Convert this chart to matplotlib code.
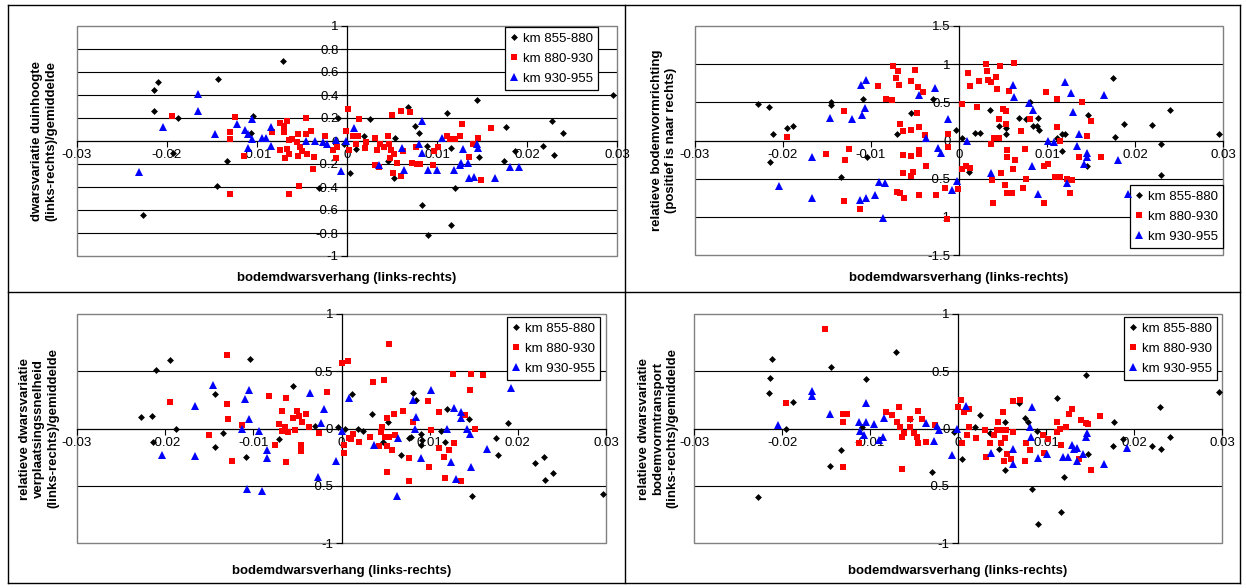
import matplotlib
matplotlib.use('Agg')
import matplotlib.pyplot as plt
from matplotlib.patches import Rectangle
from matplotlib.lines import Line2D

plt.rcParams['font.family'] = ['Liberation Sans', 'DejaVu Sans']
plt.rcParams['axes.unicode_minus'] = False

# --- data (x = bodemdwarsverhang) ---
series_labels = ['km 855-880', 'km 880-930', 'km 930-955']

duin_855 = [(-0.0071, 0.70), (-0.0210, 0.51), (-0.0214, 0.44), (-0.0215, 0.26), (-0.0188, 0.20),
            (-0.0143, 0.54), (-0.0104, 0.22), (-0.0107, 0.07), (-0.0193, -0.10), (-0.0133, -0.17),
            (-0.0144, -0.39), (-0.0227, -0.64), (-0.0031, -0.41), (-0.0010, 0.20), (-0.0003, -0.03),
            (0.0003, -0.28), (0.0068, 0.30), (0.0111, 0.24), (0.0144, 0.36), (0.0025, 0.19),
            (0.0019, 0.04), (0.0010, -0.07), (0.0053, 0.03), (0.0046, -0.17), (0.0052, -0.32),
            (0.0075, 0.13), (0.0080, 0.07), (0.0089, -0.04), (0.0116, -0.06), (0.0083, -0.56),
            (0.0090, -0.82), (0.0116, -0.73), (0.0120, -0.41), (0.0147, -0.14), (0.0177, 0.12),
            (0.0174, -0.17), (0.0187, -0.09), (0.0218, -0.04), (0.0228, 0.17), (0.0230, -0.12),
            (0.0240, 0.07), (0.0295, 0.40)]
duin_880 = [(-0.0195, 0.22), (-0.0130, 0.08), (-0.0130, 0.02), (-0.0124, 0.21), (-0.0114, -0.13),
            (-0.0130, -0.46), (-0.0083, 0.08), (-0.0075, 0.16), (-0.0070, 0.13), (-0.0067, 0.17),
            (-0.0070, 0.08), (-0.0075, -0.08), (-0.0069, -0.15), (-0.0064, -0.11), (-0.0067, -0.07),
            (-0.0065, 0.01), (-0.0061, 0.02), (-0.0056, -0.01), (-0.0054, 0.06), (-0.0046, 0.20),
            (-0.0040, 0.09), (-0.0046, 0.06), (-0.0052, -0.05), (-0.0050, -0.09), (-0.0054, -0.13),
            (-0.0045, -0.11), (-0.0037, -0.14), (-0.0038, -0.24), (-0.0064, -0.46), (-0.0053, -0.39),
            (-0.0025, 0.04), (-0.0016, -0.08), (-0.0011, -0.05), (-0.0012, -0.15), (-0.0001, 0.09),
            (0.0001, 0.28), (0.0002, -0.08), (0.0013, 0.19), (0.0007, 0.04), (0.0012, 0.04),
            (0.0010, -0.03), (0.0021, -0.01), (0.0020, -0.06), (0.0031, 0.03), (0.0033, -0.08),
            (0.0037, -0.03), (0.0041, -0.05), (0.0046, 0.04), (0.0047, -0.03), (0.0049, -0.08),
            (0.0052, -0.11), (0.0048, -0.15), (0.0055, -0.19), (0.0031, -0.21), (0.0036, -0.23),
            (0.0050, 0.23), (0.0060, 0.26), (0.0070, 0.25), (0.0062, -0.09), (0.0051, -0.28),
            (0.0060, -0.30), (0.0072, -0.19), (0.0077, -0.05), (0.0078, -0.20), (0.0081, -0.20),
            (0.0095, -0.21), (0.0097, -0.09), (0.0101, -0.05), (0.0111, 0.04), (0.0114, 0.02),
            (0.0120, 0.02), (0.0126, 0.04), (0.0128, 0.15), (0.0136, -0.14), (0.0145, 0.03),
            (0.0140, -0.03), (0.0160, 0.11), (0.0149, -0.34)]
duin_930 = [(-0.0166, 0.41), (-0.0166, 0.26), (-0.0204, 0.12), (-0.0231, -0.27), (-0.0147, 0.06),
            (-0.0122, 0.15), (-0.0113, 0.10), (-0.0110, 0.06), (-0.0106, 0.19), (-0.0106, 0.02),
            (-0.0110, -0.06), (-0.0095, 0.03), (-0.0090, 0.03), (-0.0084, 0.12), (-0.0085, -0.04),
            (-0.0046, 0.00), (-0.0036, 0.00), (-0.0027, -0.01), (-0.0022, -0.03), (-0.0012, 0.01),
            (-0.0001, 0.00), (-0.0007, -0.26), (0.0008, 0.11), (0.0036, -0.21), (0.0061, -0.06),
            (0.0063, -0.25), (0.0080, -0.03), (0.0083, 0.17), (0.0083, -0.10), (0.0090, -0.25),
            (0.0100, -0.25), (0.0106, 0.03), (0.0119, -0.25), (0.0125, -0.21), (0.0127, -0.19),
            (0.0129, -0.07), (0.0134, -0.19), (0.0135, -0.32), (0.0141, -0.31), (0.0144, -0.03),
            (0.0146, -0.06), (0.0164, -0.32), (0.0181, -0.23), (0.0191, -0.23)]

richting_855 = [(-0.0228, 0.48), (-0.0216, 0.44), (-0.0211, 0.08), (-0.0195, 0.17), (-0.0189, 0.19),
                (-0.0145, 0.50), (-0.0145, 0.46), (-0.0109, 0.54), (-0.0215, -0.28), (-0.0105, -0.21),
                (-0.0134, -0.48), (-0.0055, 0.36), (-0.0070, 0.09), (-0.0030, 0.54), (-0.0003, 0.14),
                (0.0003, 0.03), (0.0011, -0.41), (0.0018, 0.10), (0.0024, 0.10), (0.0035, 0.40),
                (0.0046, 0.19), (0.0053, 0.16), (0.0053, 0.08), (0.0068, 0.29), (0.0076, 0.28),
                (0.0081, 0.51), (0.0084, 0.19), (0.0090, 0.30), (0.0089, 0.19), (0.0091, 0.14),
                (0.0111, 0.03), (0.0117, 0.08), (0.0121, 0.09), (0.0117, -0.14), (0.0147, 0.34),
                (0.0145, -0.33), (0.0175, 0.82), (0.0177, 0.05), (0.0188, 0.22), (0.0219, 0.20),
                (0.0230, -0.05), (0.0229, -0.45), (0.0240, 0.40), (0.0296, 0.09)]
richting_880 = [(-0.0195, 0.04), (-0.0131, 0.38), (-0.0151, -0.18), (-0.0125, -0.11), (-0.0129, -0.25),
                (-0.0131, -0.79), (-0.0113, -0.90), (-0.0092, 0.72), (-0.0075, 0.98), (-0.0069, 0.91),
                (-0.0072, 0.82), (-0.0068, 0.73), (-0.0083, 0.55), (-0.0076, 0.53), (-0.0050, 0.93),
                (-0.0054, 0.78), (-0.0047, 0.70), (-0.0041, 0.64), (-0.0048, 0.36), (-0.0067, 0.21),
                (-0.0064, 0.13), (-0.0055, 0.14), (-0.0046, 0.18), (-0.0039, 0.07), (-0.0012, 0.08),
                (-0.0064, -0.19), (-0.0054, -0.20), (-0.0046, -0.13), (-0.0046, -0.18), (-0.0012, -0.08),
                (-0.0037, -0.34), (-0.0064, -0.42), (-0.0052, -0.41), (-0.0055, -0.47), (-0.0070, -0.67),
                (-0.0067, -0.69), (-0.0062, -0.75), (-0.0046, -0.72), (-0.0026, -0.72), (-0.0016, -0.62),
                (-0.0014, -1.03), (-0.0001, -0.63), (0.0003, 0.48), (0.0003, -0.37), (0.0008, -0.34),
                (0.0010, 0.88), (0.0012, 0.72), (0.0031, 1.00), (0.0032, 0.91), (0.0033, 0.79),
                (0.0036, 0.76), (0.0042, 0.83), (0.0047, 0.97), (0.0062, 1.02), (0.0023, 0.78),
                (0.0043, 0.68), (0.0057, 0.65), (0.0020, 0.44), (0.0050, 0.41), (0.0053, 0.39),
                (0.0046, 0.28), (0.0081, 0.28), (0.0053, 0.21), (0.0070, 0.13), (0.0040, 0.03),
                (0.0046, 0.03), (0.0036, -0.04), (0.0075, -0.11), (0.0054, -0.13), (0.0054, -0.22),
                (0.0064, -0.25), (0.0061, -0.37), (0.0048, -0.43), (0.0038, -0.52), (0.0052, -0.58),
                (0.0076, -0.50), (0.0073, -0.62), (0.0055, -0.69), (0.0060, -0.69), (0.0039, -0.82),
                (0.0097, -0.82), (0.0013, -0.36), (0.0099, 0.63), (0.0111, 0.54), (0.0111, 0.18),
                (0.0115, 0.00), (0.0097, -0.33), (0.0101, -0.31), (0.0109, -0.48), (0.0115, -0.48),
                (0.0123, -0.51), (0.0128, -0.52), (0.0126, -0.69), (0.0140, 0.50), (0.0150, 0.26),
                (0.0146, 0.06), (0.0136, -0.21), (0.0161, -0.22)]
richting_930 = [(-0.0111, 0.73), (-0.0106, 0.79), (-0.0107, 0.43), (-0.0110, 0.34), (-0.0147, 0.29),
                (-0.0122, 0.28), (-0.0167, -0.22), (-0.0205, -0.59), (-0.0167, -0.75), (-0.0113, -0.78),
                (-0.0106, -0.75), (-0.0095, -0.72), (-0.0091, -0.55), (-0.0084, -0.56), (-0.0086, -1.01),
                (-0.0045, 0.59), (-0.0027, 0.69), (-0.0037, 0.03), (-0.0024, -0.10), (-0.0021, -0.17),
                (-0.0013, 0.28), (-0.0002, -0.53), (-0.0008, -0.65), (0.0009, 0.00), (0.0061, 0.73),
                (0.0063, 0.57), (0.0080, 0.49), (0.0084, 0.40), (0.0083, -0.34), (0.0036, -0.42),
                (0.0090, -0.70), (0.0101, 0.00), (0.0108, -0.02), (0.0120, 0.76), (0.0127, 0.62),
                (0.0130, 0.37), (0.0136, 0.08), (0.0134, -0.07), (0.0145, -0.16), (0.0145, -0.21),
                (0.0142, -0.31), (0.0123, -0.56), (0.0165, 0.59), (0.0181, -0.26), (0.0192, -0.70)]

snelheid_855 = [(-0.0210, 0.51), (-0.0194, 0.60), (-0.0104, 0.61), (-0.0227, 0.10), (-0.0215, 0.11),
                (-0.0188, 0.00), (-0.0214, -0.12), (-0.0144, 0.30), (-0.0144, -0.16), (-0.0134, -0.04),
                (-0.0108, -0.25), (-0.0071, -0.09), (-0.0055, 0.37), (-0.0030, 0.02), (-0.0004, 0.01),
                (0.0004, 0.00), (0.0012, 0.30), (0.0019, 0.00), (0.0024, -0.02), (0.0035, 0.13),
                (0.0053, 0.06), (0.0047, -0.12), (0.0068, -0.23), (0.0077, -0.08), (0.0079, -0.07),
                (0.0081, 0.31), (0.0085, 0.25), (0.0090, -0.05), (0.0091, -0.10), (0.0090, -0.14),
                (0.0113, -0.02), (0.0117, -0.12), (0.0120, 0.17), (0.0145, 0.08), (0.0148, -0.59),
                (0.0175, -0.08), (0.0177, -0.23), (0.0189, 0.05), (0.0219, -0.30), (0.0230, -0.25),
                (0.0231, -0.45), (0.0240, -0.39), (0.0297, -0.57)]
snelheid_880 = [(-0.0130, 0.64), (-0.0195, 0.23), (-0.0130, 0.21), (-0.0129, 0.08), (-0.0150, -0.06),
                (-0.0124, -0.28), (-0.0113, 0.03), (-0.0082, 0.28), (-0.0063, 0.27), (-0.0068, 0.15),
                (-0.0075, -0.14), (-0.0071, 0.04), (-0.0068, -0.02), (-0.0064, 0.01), (-0.0061, -0.03),
                (-0.0053, -0.01), (-0.0055, 0.09), (-0.0050, 0.15), (-0.0048, 0.11), (-0.0045, 0.06),
                (-0.0040, 0.13), (-0.0037, 0.01), (-0.0046, -0.14), (-0.0046, -0.20), (-0.0063, -0.29),
                (-0.0025, -0.04), (-0.0016, 0.32), (0.0000, 0.57), (0.0007, 0.59), (0.0003, -0.14),
                (0.0003, -0.21), (0.0009, -0.08), (0.0054, 0.74), (0.0036, 0.41), (0.0048, 0.42),
                (0.0013, -0.05), (0.0011, -0.09), (0.0020, -0.12), (0.0032, -0.07), (0.0043, -0.15),
                (0.0046, 0.01), (0.0045, -0.03), (0.0049, -0.07), (0.0054, -0.07), (0.0052, -0.15),
                (0.0057, -0.19), (0.0052, 0.09), (0.0060, 0.13), (0.0070, 0.15), (0.0061, -0.06),
                (0.0081, 0.06), (0.0052, -0.38), (0.0076, -0.26), (0.0076, -0.46), (0.0098, 0.24),
                (0.0101, -0.01), (0.0099, -0.34), (0.0111, 0.14), (0.0111, -0.17), (0.0116, -0.25),
                (0.0122, -0.19), (0.0128, -0.13), (0.0117, -0.43), (0.0126, 0.48), (0.0147, 0.48),
                (0.0161, 0.47), (0.0146, 0.34), (0.0140, 0.12), (0.0151, 0.00), (0.0136, -0.46)]
snelheid_930 = [(-0.0146, 0.38), (-0.0166, 0.20), (-0.0204, -0.23), (-0.0166, -0.24), (-0.0110, 0.26),
                (-0.0105, 0.34), (-0.0105, 0.08), (-0.0113, 0.00), (-0.0094, -0.02), (-0.0085, -0.19),
                (-0.0084, -0.26), (-0.0107, -0.53), (-0.0090, -0.55), (-0.0036, 0.31), (-0.0020, 0.17),
                (-0.0023, 0.05), (0.0000, -0.02), (-0.0006, -0.28), (-0.0027, -0.42), (0.0009, 0.27),
                (0.0037, -0.14), (0.0064, -0.08), (0.0063, -0.59), (0.0081, 0.25), (0.0085, 0.10),
                (0.0083, 0.00), (0.0090, -0.26), (0.0101, 0.34), (0.0120, 0.00), (0.0124, -0.29),
                (0.0128, 0.18), (0.0136, 0.14), (0.0135, 0.09), (0.0142, 0.00), (0.0146, -0.05),
                (0.0130, -0.44), (0.0147, -0.34), (0.0165, -0.18), (0.0192, 0.35)]

transport_855 = [(-0.0211, 0.61), (-0.0214, 0.44), (-0.0215, 0.31), (-0.0188, 0.23), (-0.0195, 0.00),
                 (-0.0227, -0.60), (-0.0144, 0.54), (-0.0133, -0.19), (-0.0145, -0.33), (-0.0104, 0.43),
                 (-0.0109, 0.01), (-0.0070, 0.67), (-0.0054, 0.08), (-0.0030, -0.38), (-0.0004, -0.03),
                 (0.0004, -0.27), (0.0069, 0.22), (0.0025, 0.12), (0.0019, 0.01), (0.0036, -0.04),
                 (0.0053, 0.06), (0.0047, -0.18), (0.0053, -0.36), (0.0076, 0.09), (0.0079, 0.06),
                 (0.0090, -0.02), (0.0084, -0.53), (0.0091, -0.83), (0.0113, 0.27), (0.0117, -0.73),
                 (0.0121, -0.42), (0.0146, 0.47), (0.0148, -0.22), (0.0176, -0.15), (0.0177, 0.06),
                 (0.0188, -0.09), (0.0220, -0.15), (0.0230, 0.19), (0.0231, -0.18), (0.0241, -0.07),
                 (0.0297, 0.32)]
transport_880 = [(-0.0151, 0.87), (-0.0195, 0.22), (-0.0131, 0.13), (-0.0126, 0.13), (-0.0131, 0.06),
                 (-0.0113, -0.13), (-0.0131, -0.34), (-0.0082, 0.14), (-0.0075, 0.12), (-0.0067, 0.19),
                 (-0.0069, 0.06), (-0.0066, 0.01), (-0.0055, 0.01), (-0.0054, 0.08), (-0.0045, 0.15),
                 (-0.0041, 0.08), (-0.0061, -0.04), (-0.0064, -0.07), (-0.0050, -0.04), (-0.0047, -0.07),
                 (-0.0046, -0.13), (-0.0036, -0.12), (-0.0026, 0.03), (-0.0064, -0.35), (0.0000, 0.19),
                 (0.0003, 0.25), (0.0007, 0.14), (0.0010, -0.06), (0.0004, -0.13), (0.0013, 0.01),
                 (0.0013, 0.17), (0.0021, -0.08), (0.0031, -0.01), (0.0032, -0.25), (0.0036, -0.13),
                 (0.0041, -0.06), (0.0044, -0.01), (0.0046, 0.06), (0.0051, 0.14), (0.0050, -0.01),
                 (0.0053, -0.08), (0.0049, -0.13), (0.0055, -0.01), (0.0056, -0.22), (0.0052, -0.28),
                 (0.0060, -0.27), (0.0063, -0.03), (0.0062, 0.24), (0.0070, 0.25), (0.0077, -0.13),
                 (0.0082, -0.19), (0.0076, -0.28), (0.0097, -0.06), (0.0102, -0.09), (0.0098, -0.21),
                 (0.0112, 0.06), (0.0113, -0.03), (0.0117, -0.14), (0.0116, 0.00), (0.0123, 0.01),
                 (0.0126, 0.13), (0.0129, 0.17), (0.0140, 0.07), (0.0146, 0.05), (0.0148, 0.04),
                 (0.0137, -0.27), (0.0151, -0.36), (0.0161, 0.11)]
transport_930 = [(-0.0166, 0.33), (-0.0166, 0.28), (-0.0205, 0.03), (-0.0146, 0.13), (-0.0105, 0.22),
                 (-0.0112, 0.06), (-0.0105, 0.06), (-0.0111, -0.02), (-0.0107, -0.06), (-0.0095, 0.04),
                 (-0.0084, 0.09), (-0.0085, -0.07), (-0.0090, -0.10), (-0.0036, 0.05), (-0.0027, -0.11),
                 (-0.0024, 0.02), (-0.0022, -0.01), (-0.0001, 0.00), (-0.0007, -0.23), (0.0009, 0.20),
                 (0.0037, -0.21), (0.0062, -0.18), (0.0063, -0.31), (0.0082, 0.01), (0.0083, -0.07),
                 (0.0084, 0.19), (0.0091, -0.26), (0.0101, -0.22), (0.0119, -0.25), (0.0125, -0.25),
                 (0.0130, -0.14), (0.0132, -0.18), (0.0135, -0.17), (0.0135, -0.28), (0.0142, -0.22),
                 (0.0146, -0.07), (0.0147, -0.04), (0.0166, -0.31), (0.0192, -0.17)]

x_ticks = [-0.03, -0.02, -0.01, 0, 0.01, 0.02, 0.03]
xlabel = 'bodemdwarsverhang (links-rechts)'

W, H = 1246, 588
fig = plt.figure(figsize=(W / 100, H / 100), dpi=100)


def fx(x):
    return x / W


def fy(y):
    return 1 - y / H


markers = [dict(marker='D', color='black', ms=3.5),
           dict(marker='s', color='red', ms=4.6),
           dict(marker='^', color='blue', ms=5.3)]

# (series, plot box px, ylim, yticks, ylabel, ylabel x, legend right/top px, xlabel y)
panels = [
    ([duin_855, duin_880, duin_930], (77, 26, 617, 256), 1.0,
     [-1, -0.8, -0.6, -0.4, -0.2, 0, 0.2, 0.4, 0.6, 0.8, 1],
     'dwarsvariatie duinhoogte\n(links-rechts)/gemiddelde', 44, (598, 27), 278),
    ([richting_855, richting_880, richting_930], (695, 26, 1223, 255), 1.5,
     [-1.5, -1, -0.5, 0, 0.5, 1, 1.5],
     'relatieve bodemvormrichting\n(positief is naar rechts)', 664, (1223, 185), 278),
    ([snelheid_855, snelheid_880, snelheid_930], (77, 314, 606, 543), 1.0,
     [-1, -0.5, 0, 0.5, 1],
     'relatieve dwarsvariatie\nverplaatsingssnelheid\n(links-rechts)/gemiddelde', 39, (600, 317), 571),
    ([transport_855, transport_880, transport_930], (694, 314, 1222, 543), 1.0,
     [-1, -0.5, 0, 0.5, 1],
     'relatieve dwarsvariatie\nbodemvormtransport\n(links-rechts)/gemiddelde', 658, (1217, 317), 571),
]

for series, (x0, y0, x1, y1), ymax, yticks, ylabel, ylx, (lgx, lgy), xly in panels:
    ax = fig.add_axes([fx(x0), fy(y1), (x1 - x0) / W, (y1 - y0) / H])
    ax.set_xlim(-0.03, 0.03)
    ax.set_ylim(-ymax, ymax)
    for s, (pts, st) in enumerate(zip(series, markers)):
        xs, ys = zip(*pts)
        ax.plot(xs, ys, linestyle='none', marker=st['marker'], color=st['color'],
                markersize=st['ms'], markeredgewidth=0, label=series_labels[s], zorder=4 + s)
    for t in yticks:
        if abs(t) < ymax and t != 0:
            ax.axhline(t, color='black', lw=0.8, zorder=1)
    for side in ['top', 'right']:
        ax.spines[side].set_visible(False)
    for side in ['left', 'bottom']:
        ax.spines[side].set_position('zero')
        ax.spines[side].set_color('black')
        ax.spines[side].set_linewidth(0.9)
        ax.spines[side].set_zorder(2)
    # grey plot-area frame
    ax.add_patch(Rectangle((0, 0), 1, 1, transform=ax.transAxes, fill=False,
                           edgecolor='#808080', lw=1.0, clip_on=False, zorder=1))
    ax.set_xticks(x_ticks)
    ax.set_xticklabels([f'{v:g}' for v in x_ticks])
    ax.set_yticks(yticks)
    ax.set_yticklabels([f'{v:g}' for v in yticks])
    ax.tick_params(direction='out', length=4, width=0.8, labelsize=9.5, pad=2, colors='black')
    ax.patch.set_visible(False)

    leg = ax.legend(loc='upper right', bbox_to_anchor=(fx(lgx), fy(lgy)),
                    bbox_transform=fig.transFigure, borderaxespad=0, fontsize=9.5,
                    frameon=True, fancybox=False, edgecolor='black', framealpha=1,
                    handlelength=0.6, handletextpad=0.35, labelspacing=0.6, borderpad=0.4)
    leg.get_frame().set_linewidth(0.9)

    fig.text(fx(ylx), fy((y0 + y1) / 2), ylabel, rotation=90, ha='center', va='center',
             multialignment='center', fontsize=9.5, fontweight='bold', linespacing=1.25)
    fig.text(fx((x0 + x1) / 2), fy(xly), xlabel, ha='center', va='center',
             fontsize=9.5, fontweight='bold')

# chart frames
for (a, b, c, d) in [(8, 5, 1240, 5), (8, 583, 1240, 583), (8, 5, 8, 583), (1240, 5, 1240, 583),
                     (625, 5, 625, 583), (8, 292, 1240, 292)]:
    fig.add_artist(Line2D([fx(a), fx(c)], [fy(b), fy(d)], color='black', lw=1.0,
                          transform=fig.transFigure))

fig.savefig('out.png', dpi=100)
